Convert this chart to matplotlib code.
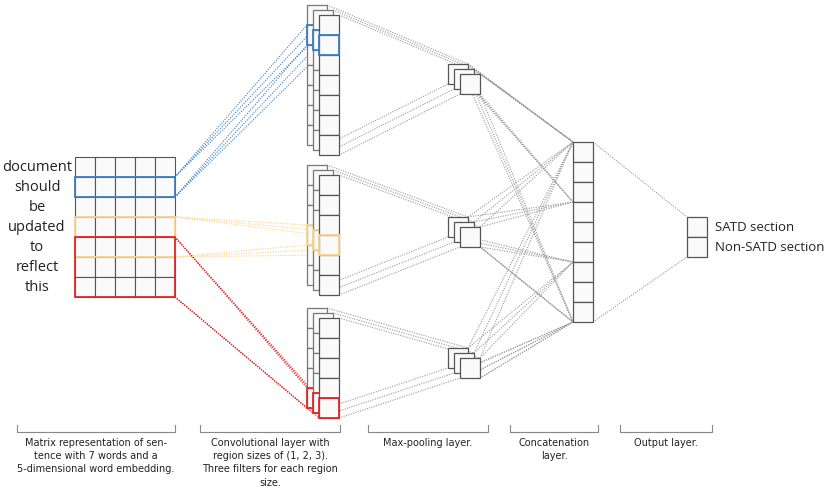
import matplotlib
matplotlib.use("Agg")
import matplotlib.pyplot as plt
from matplotlib.patches import Rectangle

words = ["document", "should", "be", "updated", "to", "reflect", "this"]
embed_dim = 5
region_sizes = [1, 2, 3]
conv_lengths = [7, 6, 5]
highlight_rows = [1, 3, 4]  # start row in matrix for each region
highlight_cells = [1, 3, 4]  # cell index in conv output
colors = ["#3d7fc1", "#fcd48a", "#e0282a"]
concat_cells = 9
outputs = ["SATD section", "Non-SATD section"]
captions = ["Matrix representation of sen-\ntence with 7 words and a\n5-dimensional word embedding.",
            "Convolutional layer with\nregion sizes of (1, 2, 3).\nThree filters for each region\nsize.",
            "Max-pooling layer.", "Concatenation\nlayer.", "Output layer."]
caption_spans = [(17, 175), (200, 340), (368, 488), (510, 598), (620, 712)]

fig = plt.figure(figsize=(8.3, 4.94), dpi=100)
ax = fig.add_axes([0, 0, 1, 1])
ax.set_xlim(0, 830); ax.set_ylim(494, 0); ax.axis("off")
C = 20
GREY = "#9a9a9a"
EDGE = "#555555"
FILL = "#fafafa"

def dot(p, q, c=GREY, lw=0.8):
    ax.plot([p[0], q[0]], [p[1], q[1]], ls=(0, (1, 1.2)), color=c, lw=lw, zorder=1)

# matrix
mx, my = 75, 157
for r in range(len(words)):
    for c in range(embed_dim):
        ax.add_patch(Rectangle((mx + c*C, my + r*C), C, C, fc=FILL, ec=EDGE, lw=0.8, zorder=2))
    ax.text(37, my + r*C + C/2, words[r], ha="center", va="center", fontsize=10.5,
            family="Open Sans", color="#222")

group_y = [5, 165, 308]
dx, dy = 6, 5
fx0 = 307
pool_y = [64, 217, 348]
px0 = 448
cx, cy = 573, 142
for g in range(3):
    rs = region_sizes[g]; col = colors[g]
    hr = highlight_rows[g]
    mt, mb = my + hr*C, my + (hr+rs)*C
    pool_sq = [(px0 + k*dx, pool_y[g] + k*dy) for k in range(3)]
    for k in range(3):
        x = fx0 + k*dx; y = group_y[g] + k*dy
        n = conv_lengths[g]
        hc = highlight_cells[g]
        for i in range(n):
            ax.add_patch(Rectangle((x, y + i*C), C, C, fc=FILL, ec=EDGE if k == 2 else "#777",
                                   lw=0.9, zorder=3+k))
        ax.add_patch(Rectangle((x, y + hc*C), C, C, fc="none", ec=col, lw=1.3, zorder=3+k))
        dot((175, mt), (x, y + hc*C), col)
        dot((175, mb), (x, y + (hc+1)*C), col)
        sx, sy = pool_sq[k]
        dot((x + C, y), (sx + C, sy))
        dot((x + C, y + n*C), (sx, sy + C))
        ax.add_patch(Rectangle((sx, sy), C, C, fc=FILL, ec=EDGE, lw=0.9, zorder=3+k))
        dot((sx + C, sy), (cx, cy + g*3*C))
        dot((sx + C, sy + C), (cx, cy + (g*3+3)*C))
        dot((sx + C, sy), (cx, cy))
        dot((sx + C, sy + C), (cx, cy + concat_cells*C))
    # matrix highlight
    ax.add_patch(Rectangle((mx, mt), embed_dim*C, rs*C, fc="none", ec=col, lw=1.3, zorder=5))

for i in range(concat_cells):
    ax.add_patch(Rectangle((cx, cy + i*C), C, C, fc=FILL, ec=EDGE, lw=0.9, zorder=3))
ox, oy = 687, 217
for i, lab in enumerate(outputs):
    ax.add_patch(Rectangle((ox, oy + i*C), C, C, fc=FILL, ec=EDGE, lw=0.9, zorder=3))
    ax.text(ox + C + 8, oy + i*C + C/2, lab, ha="left", va="center", fontsize=9.5,
            family="Open Sans", color="#222")
dot((cx + C, cy), (ox, oy))
dot((cx + C, cy + concat_cells*C), (ox, oy + 2*C))

for (a, b), cap in zip(caption_spans, captions):
    ax.plot([a, a, b, b], [425, 432, 432, 425], color="#888", lw=0.8)
    ax.text((a+b)/2, 438, cap, ha="center", va="top", fontsize=7, family="Liberation Sans Narrow",
            color="#222", linespacing=1.4)

fig.savefig("out.png", dpi=100)
